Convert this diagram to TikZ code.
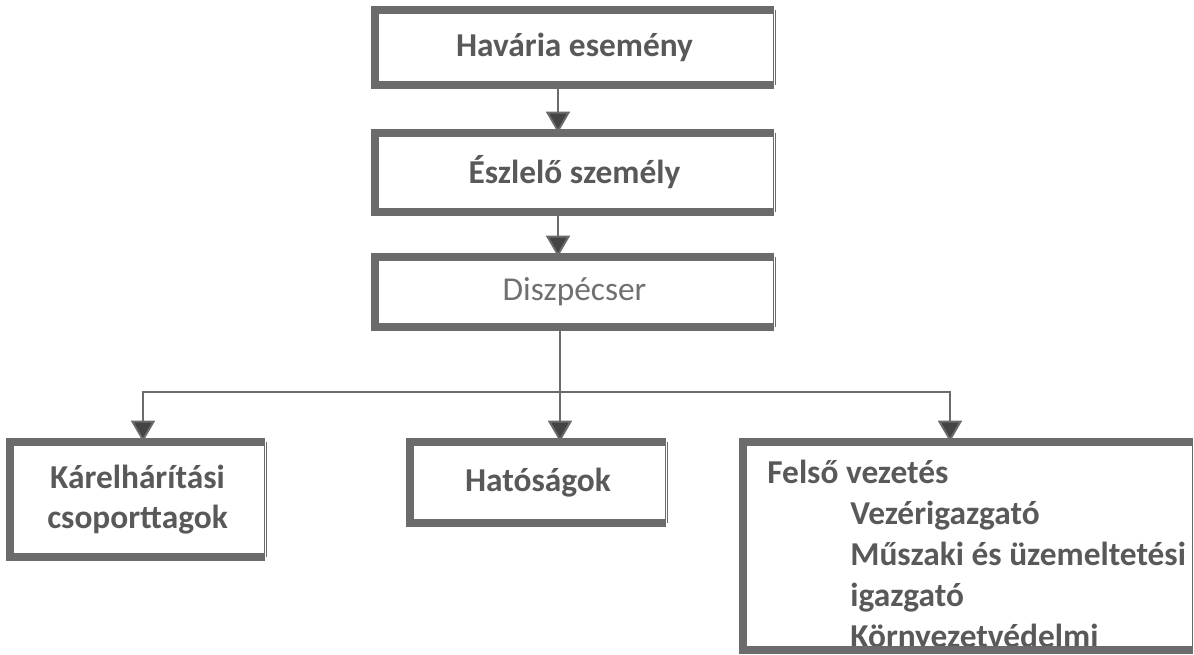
\documentclass[tikz,border=0pt]{standalone}
\usepackage{fontspec}
\setmainfont{Carlito}
\usetikzlibrary{arrows.meta}
\definecolor{framegray}{HTML}{6B6B6B}
\definecolor{textgray}{HTML}{595959}
\definecolor{softgray}{HTML}{707070}
\definecolor{tipgray}{HTML}{444444}

\begin{document}
\begin{tikzpicture}[%
        x=0.02cm, y=-0.02cm,
        box/.style={shape=rectangle, inner sep=0pt, text=textgray, align=center,
            font=\fontsize{19}{23}\selectfont\bfseries},
        heavy/.style={draw=framegray, line width=4.5pt, line join=miter},
        light/.style={draw=framegray, line width=0.5pt, double, double distance=0.8pt},
        link/.style={draw=framegray, line width=1.1pt},
        arr/.style={link, -{Triangle[width=0.48cm, length=0.42cm, fill=tipgray]}}
    ]
        \useasboundingbox (0,0) rectangle (1194,654);
        \clip (0,0) rectangle (1194,654);
        \fill[white] (0,0) rectangle (1194,654);

        % boxes
        \node [box, minimum width=7.98cm, minimum height=1.5cm]  (havaria)    at (574.5,47.5)  {Havária esemény};
        \node [box, minimum width=7.98cm, minimum height=1.58cm] (eszlelo)    at (574.5,172.5) {Észlelő személy};
        \node [box, minimum width=7.98cm, minimum height=1.4cm, text=softgray,
               font=\fontsize{19}{23}\selectfont]                 (diszpecser) at (574.5,292)   {Diszpécser};
        \node [box, minimum width=5.1cm, minimum height=2.3cm]   (karelharitas) at (137.5,499.5) {Kárelhárítási\\csoporttagok};
        \node [box, minimum width=5.12cm, minimum height=1.62cm] (hatosagok)  at (538,482.5)   {Hatóságok};
        \node [box, minimum width=9cm, minimum height=4.16cm]    (felso)      at (968,546)     {};
        \node [box, anchor=north west, align=left,
               font=\fontsize{19}{23.3}\selectfont\bfseries]      (felsotext)  at (767,460)     {%
            Felső vezetés\\
            \hspace*{1.66cm}Vezérigazgató\\
            \hspace*{1.66cm}Műszaki és üzemeltetési\\
            \hspace*{1.66cm}igazgató\\
            \hspace*{1.66cm}Környezetvédelmi};

        \foreach \n in {havaria,eszlelo,diszpecser,karelharitas,hatosagok,felso} {
            \draw [heavy] (\n.north east) -- (\n.north west) -- (\n.south west) -- (\n.south east);
            \draw [light] (\n.north east) -- (\n.south east);
        }

        % connectors
        \coordinate (spine) at (558,0);
        \coordinate (bus)   at (560,392);
        \coordinate (karin) at (143,0);
        \coordinate (felin) at (950,0);

        \draw [arr] (havaria.south -| spine) -- (eszlelo.north -| spine);
        \draw [arr] (eszlelo.south -| spine) -- (diszpecser.north -| spine);
        \draw [link] (diszpecser.south -| bus) -- (bus);
        \draw [arr] (bus) -| (karelharitas.north -| karin);
        \draw [arr] (bus) -- (hatosagok.north -| bus);
        \draw [arr] (bus) -| (felso.north -| felin);
    \end{tikzpicture}
\end{document}
